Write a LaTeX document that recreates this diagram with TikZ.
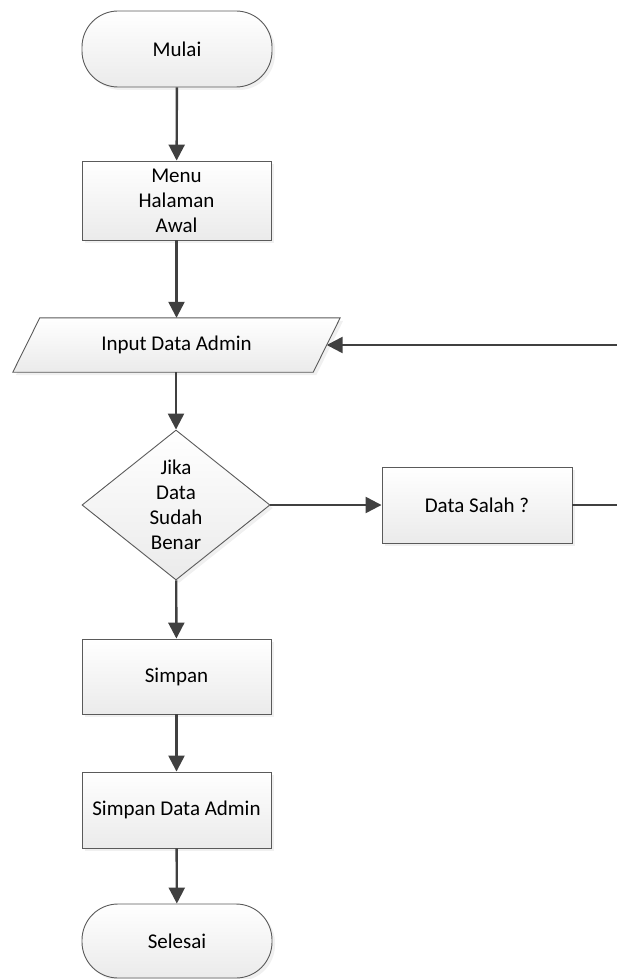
\documentclass[tikz,border=0pt]{standalone}
\usepackage{fontspec}
\setmainfont{Carlito}
\usetikzlibrary{arrows.meta,shapes.geometric,shadows,calc}

\definecolor{linegray}{HTML}{404040}
\definecolor{edgegray}{HTML}{5A5A5A}

\tikzset{
  txt/.style={font=\fontsize{21}{25}\selectfont},
  base/.style={txt, draw=edgegray, line width=0.9pt, top color=white, bottom color=black!8,
    drop shadow={opacity=0.12, shadow xshift=3pt, shadow yshift=-3pt},
    align=center, inner sep=0pt},
  terminal/.style={base, rectangle, rounded corners=36pt, minimum width=190pt, minimum height=76pt},
  process/.style={base, rectangle, minimum width=189pt, minimum height=76pt},
  decision/.style={base, diamond, minimum width=188pt, minimum height=150pt},
  flow/.style={draw=linegray, line width=2.4pt, -{Triangle[length=16pt, width=16pt]}},
  plainflow/.style={draw=linegray, line width=2.4pt}
}

\begin{document}
\begin{tikzpicture}[x=1pt, y=-1pt]
  \useasboundingbox (0,0) rectangle (617,979);

  % nodes of the flow
  \node[terminal] (mulai) at (177,49) {Mulai};
  \node[process, minimum height=79pt] (menu) at (176.5,200.5) {Menu\\Halaman\\Awal};

  % input parallelogram: the node carries text and anchors, the outline is drawn around it
  \node[txt, minimum width=300pt, minimum height=54pt, inner sep=0pt] (input) at (176.5,345) {};
  \path[base] ($(input.north west)+(13.5,0)$) -- ($(input.north east)+(13.5,0)$)
     -- ($(input.south east)+(-13.5,0)$) -- ($(input.south west)+(-13.5,0)$) -- cycle;
  \node[txt] at (input.center) {Input Data Admin};

  \node[decision, label={[txt, align=center]center:Jika\\Data\\Sudah\\Benar}] (cek) at (176,505) {};
  \node[process, minimum width=190pt] (salah) at (477,505) {Data Salah ?};
  \node[process, minimum height=75pt] (simpan) at (176.5,676.5) {Simpan};
  \node[process] (sda) at (176.5,810) {Simpan Data Admin};
  \node[terminal, minimum height=74pt] (selesai) at (177,941) {Selesai};

  % return path coordinates beyond the right edge
  \coordinate (r1) at (624,505);
  \coordinate (r2) at (624,345);

  % connectors
  \draw[flow] (mulai) -- (menu);
  \draw[flow] (menu) -- (menu |- input.north);
  \draw[flow] (input.south -| cek) -- (cek);
  \draw[flow] (cek.east) -- (salah.west);
  \draw[flow] (cek) -- (simpan);
  \draw[flow] (simpan) -- (sda);
  \draw[flow] (sda) -- (selesai);
  \draw[plainflow] (salah.east) -- (r1) -- (r2);
  \draw[flow] (r2) -- (input.east);
\end{tikzpicture}
\end{document}
